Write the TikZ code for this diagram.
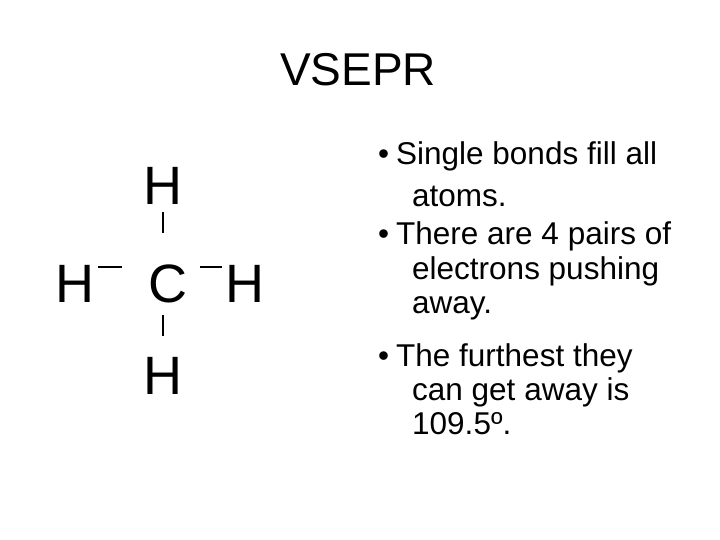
\documentclass[tikz,border=0pt]{standalone}
\usepackage{fontspec}
\setmainfont{Liberation Sans}
\begin{document}
\begin{tikzpicture}[x=1pt,y=1pt,
  atom/.style={inner sep=0pt,font=\fontsize{54}{54}\selectfont},
  bul/.style={anchor=base west,inner sep=0pt,font=\fontsize{31.5}{31.5}\selectfont},
  bond/.style={line width=1.2pt}]
\useasboundingbox (0,0) rectangle (720,540);
\node[inner sep=0pt,font=\fontsize{46}{46}\selectfont] (title) at (358,470) {VSEPR};
\node[atom] (C) at (168,256) {C};
\node[atom] (Ht) at (163,354) {H};
\node[atom] (Hb) at (163,164) {H};
\node[atom] (Hl) at (75,256) {H};
\node[atom] (Hr) at (245,256) {H};
\coordinate (t1) at (163,328); \coordinate (t2) at (163,307);
\draw[bond] (t1) -- (t2);
\coordinate (b1) at (163,225); \coordinate (b2) at (163,204);
\draw[bond] (b1) -- (b2);
\coordinate (l1) at (98,273); \coordinate (l2) at (122,273);
\draw[bond] (l1) -- (l2);
\coordinate (r1) at (200,273); \coordinate (r2) at (222,273);
\draw[bond] (r1) -- (r2);
\node[bul] (a1) at (378,375) {•};
\node[bul] (a2) at (396,375) {Single bonds fill all};
\node[bul] (a3) at (412,333) {atoms.};
\node[bul] (b1t) at (378,295) {•};
\node[bul] (b2t) at (396,295) {There are 4 pairs of};
\node[bul] (b3t) at (412,260) {electrons pushing};
\node[bul] (b4t) at (412,226) {away.};
\node[bul] (c1) at (378,173) {•};
\node[bul] (c2) at (396,173) {The furthest they};
\node[bul] (c3) at (412,139) {can get away is};
\node[bul] (c4) at (412,105) {109.5º.};
\end{tikzpicture}
\end{document}
